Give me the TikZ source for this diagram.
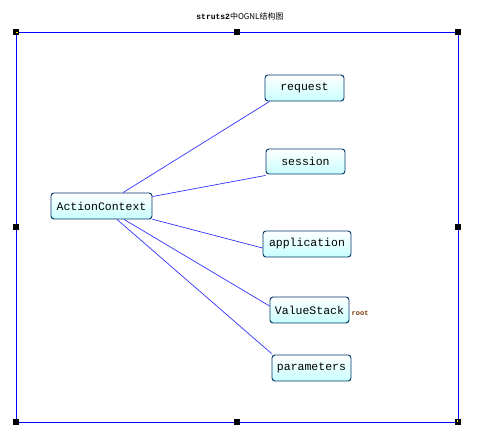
\documentclass[tikz,border=0pt]{standalone}
\usepackage{fontspec}
\setmonofont{Liberation Mono}
\newfontfamily\cjk{Noto Sans CJK SC}
\definecolor{framebl}{RGB}{0,0,255}
\definecolor{edgebl}{RGB}{50,50,255}
\definecolor{boxline}{RGB}{0,51,102}
\definecolor{boxfill}{RGB}{200,255,255}
\definecolor{rootc}{RGB}{120,50,0}
\definecolor{handley}{RGB}{255,255,0}
\begin{document}
\begin{tikzpicture}[x=1pt,y=-1pt,
  box/.style={draw=boxline,line width=0.9pt,rounded corners=3pt,
    top color=white,bottom color=boxfill,shading angle=0,
    font=\ttfamily\fontsize{11.5}{12}\selectfont,
    minimum height=26pt,inner sep=0pt,anchor=center},
  link/.style={draw=edgebl,line width=0.7pt},
  handle/.style={fill=black}]
\useasboundingbox (0,0) rectangle (483,441);
\node[font=\cjk\fontsize{8}{9}\selectfont] (title) at (240,16) {\texttt{\bfseries struts2}中OGNL结构图};
\draw[framebl,line width=0.9pt] (16,32) rectangle (458,422);
\foreach \hx/\hy in {16/32,237/32,458/32,16/227,458/227,16/422,237/422,458/422}{
  \fill[handle] (\hx-3,\hy-3) rectangle (\hx+3,\hy+3);
}
\fill[handley] (16,32) rectangle (17.5,33.5);
\fill[handley] (458,422) rectangle (456.5,420.5);
\node[box,minimum width=101pt] (ac) at (101.5,206) {ActionContext};
\node[box,minimum width=79pt] (req) at (304.5,88) {request};
\node[box,minimum width=79pt,minimum height=25pt] (ses) at (305.5,161.5) {session};
\node[box,minimum width=88pt] (app) at (307,244) {application};
\node[box,minimum width=79pt] (vs) at (309.5,310) {ValueStack};
\node[box,minimum width=79pt] (par) at (311.5,368) {parameters};
\node[font=\ttfamily\bfseries\fontsize{7}{8}\selectfont,text=rootc,anchor=west,inner sep=0pt] (root) at (351.5,313) {root};
\draw[link] (ac) -- ([xshift=5pt]req.south west);
\draw[link] (ac) -- ([yshift=-1pt]ses.south west);
\draw[link] (ac) -- ([yshift=-4pt]app.west);
\draw[link] (ac) -- ([yshift=4pt]vs.west);
\draw[link] (ac) -- ([yshift=1pt]par.north west);
\end{tikzpicture}
\end{document}
